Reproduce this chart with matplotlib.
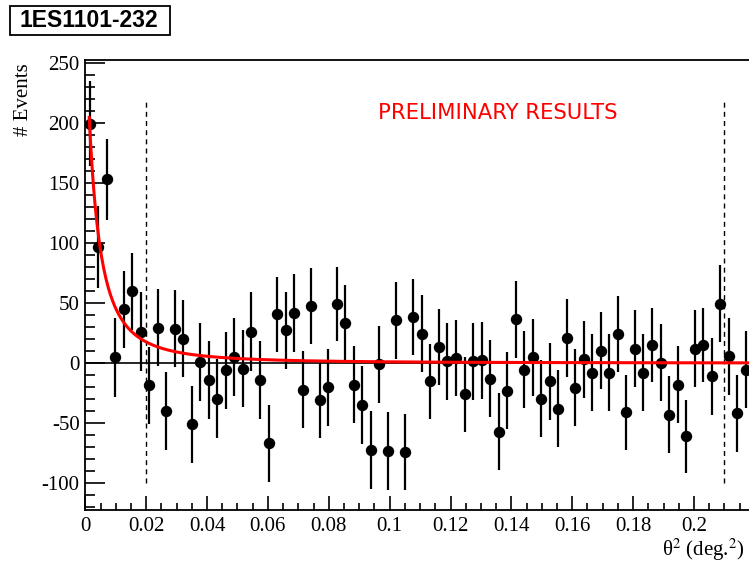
import numpy as np
import matplotlib
matplotlib.use('Agg')
import matplotlib.pyplot as plt
from matplotlib.patches import Rectangle
from matplotlib.ticker import MultipleLocator, FormatStrFormatter

# theta^2 histogram, bin width 0.0028 deg^2
bin_width = 0.0028
n_bins = 78

events = [199.5, 96.7, 153, 5, 45, 59.7, 26, -18.6, 29.5, -40,
          28.6, 20.3, -51, 1, -14, -29.7, -6, 5, -4.7, 26,
          -14, -66.7, 40.6, 27.3, 41.7, -22, 47.5, -31, -20, 49.5,
          33.3, -18, -34.7, -72, -1, -73, 35.6, -74, 38.4, 24.4,
          -15, 13.3, 1.4, 4.5, -26, 1.4, 2.3, -12.8, -57, -22.8,
          36.4, -5.3, 5, -29.7, -15, -38, 21, -20.5, 3.3, -8,
          10.3, -8, 24.2, -41, 12.2, -8, 15.3, 0.3, -43, -18,
          -61, 12.2, 15.3, -11, 49.5, 5.8, -41.7, -5.5]

errors = [35.4, 34, 33.6, 32.9, 32, 32.4, 32.9, 32.2, 32, 32.6,
          32, 32, 31.8, 32.4, 32.2, 32.9, 32, 32.4, 32.2, 32.9,
          32.2, 32, 31.5, 32.2, 32.6, 32.2, 31.8, 31.5, 32, 31,
          32, 32, 32.6, 32.4, 32, 32.4, 32, 32, 31.3, 32,
          31.3, 31.7, 32.2, 31.8, 31.3, 32, 32, 32, 32, 32,
          31.8, 32, 32, 32, 32, 32, 32.4, 32, 32, 32,
          32, 32, 31.7, 31.3, 32, 32, 31, 32, 32, 32,
          30.6, 32, 30.8, 32, 32, 32, 32, 32]

# fit of the signal shape, A / (1 + x/b)^2
fit_norm = 295.0
fit_scale = 0.00648
fit_xmin = 0.0013

# signal / background region cuts
cut_lines = [0.02, 0.21]
cut_ymin = -100
cut_ymax = 220

plt.rcParams['axes.unicode_minus'] = False
plt.rcParams['mathtext.fontset'] = 'stix'

fig = plt.figure(figsize=(7.49, 5.63), dpi=100)
ax = fig.add_axes([85.3 / 749, 1 - 510 / 563, 1 - 85.3 / 749, 450 / 563])

x = (np.arange(n_bins) + 0.5) * bin_width

ax.axhline(0, color='black', lw=1.2, zorder=1)
ax.errorbar(x, events, yerr=errors, fmt='o', color='black', ms=7.2,
            elinewidth=1.6, capsize=0, zorder=3)

xf = np.linspace(fit_xmin, 0.22, 600)
ax.plot(xf, fit_norm / (1 + xf / fit_scale) ** 2, color='red', lw=2.2, zorder=4)

for xc in cut_lines:
    ax.plot([xc, xc], [cut_ymin, cut_ymax], color='black', lw=1.0,
            linestyle=(0, (3.6, 3.0)), zorder=2)

ax.text(0.1356, 208, 'PRELIMINARY RESULTS', color='red', fontsize=15.2,
        family='DejaVu Sans', ha='center', va='center')

ax.set_xlim(0, (749 - 85.3) / 3043.5)
ax.set_ylim(-122.3, 252.5)

# ROOT like ticks, pointing inside
ax.xaxis.set_major_locator(MultipleLocator(0.02))
ax.xaxis.set_minor_locator(MultipleLocator(0.005))
ax.yaxis.set_major_locator(MultipleLocator(50))
ax.yaxis.set_minor_locator(MultipleLocator(10))
ax.xaxis.set_major_formatter(FormatStrFormatter('%g'))
ax.tick_params(axis='x', which='major', direction='in', length=10, width=1.2,
               labelsize=15, pad=5, top=False)
ax.tick_params(axis='x', which='minor', direction='in', length=5, width=1.2, top=False)
ax.tick_params(axis='y', which='major', direction='in', length=14.4, width=1.2,
               labelsize=15, pad=4, right=False)
ax.tick_params(axis='y', which='minor', direction='in', length=7.2, width=1.2, right=False)
for lab in ax.get_xticklabels() + ax.get_yticklabels():
    lab.set_family('Liberation Serif')

for side in ['left', 'bottom', 'top']:
    ax.spines[side].set_linewidth(1.3)
ax.spines['right'].set_visible(False)

# axis titles, placed like ROOT does
fig.text(23 / 749, 1 - 63 / 563, '# Events', rotation=90, fontsize=15,
         family='Liberation Serif', ha='center', va='top')
fig.text(745 / 749, 1 - 550 / 563, 'θ$^{2}$ (deg.$^{2}$)', fontsize=15,
         family='Liberation Serif', ha='right', va='center')

# title box
fig.patches.append(Rectangle((10 / 749, 1 - 35 / 563), 160 / 749, 29 / 563,
                             transform=fig.transFigure, fill=False,
                             edgecolor='black', lw=1.3))
fig.text(89 / 749, 1 - 20.5 / 563, '1ES1101-232', fontsize=16.5, weight='bold',
         family='Liberation Sans', ha='center', va='center')

plt.savefig('out.png', dpi=100)
plt.close()
